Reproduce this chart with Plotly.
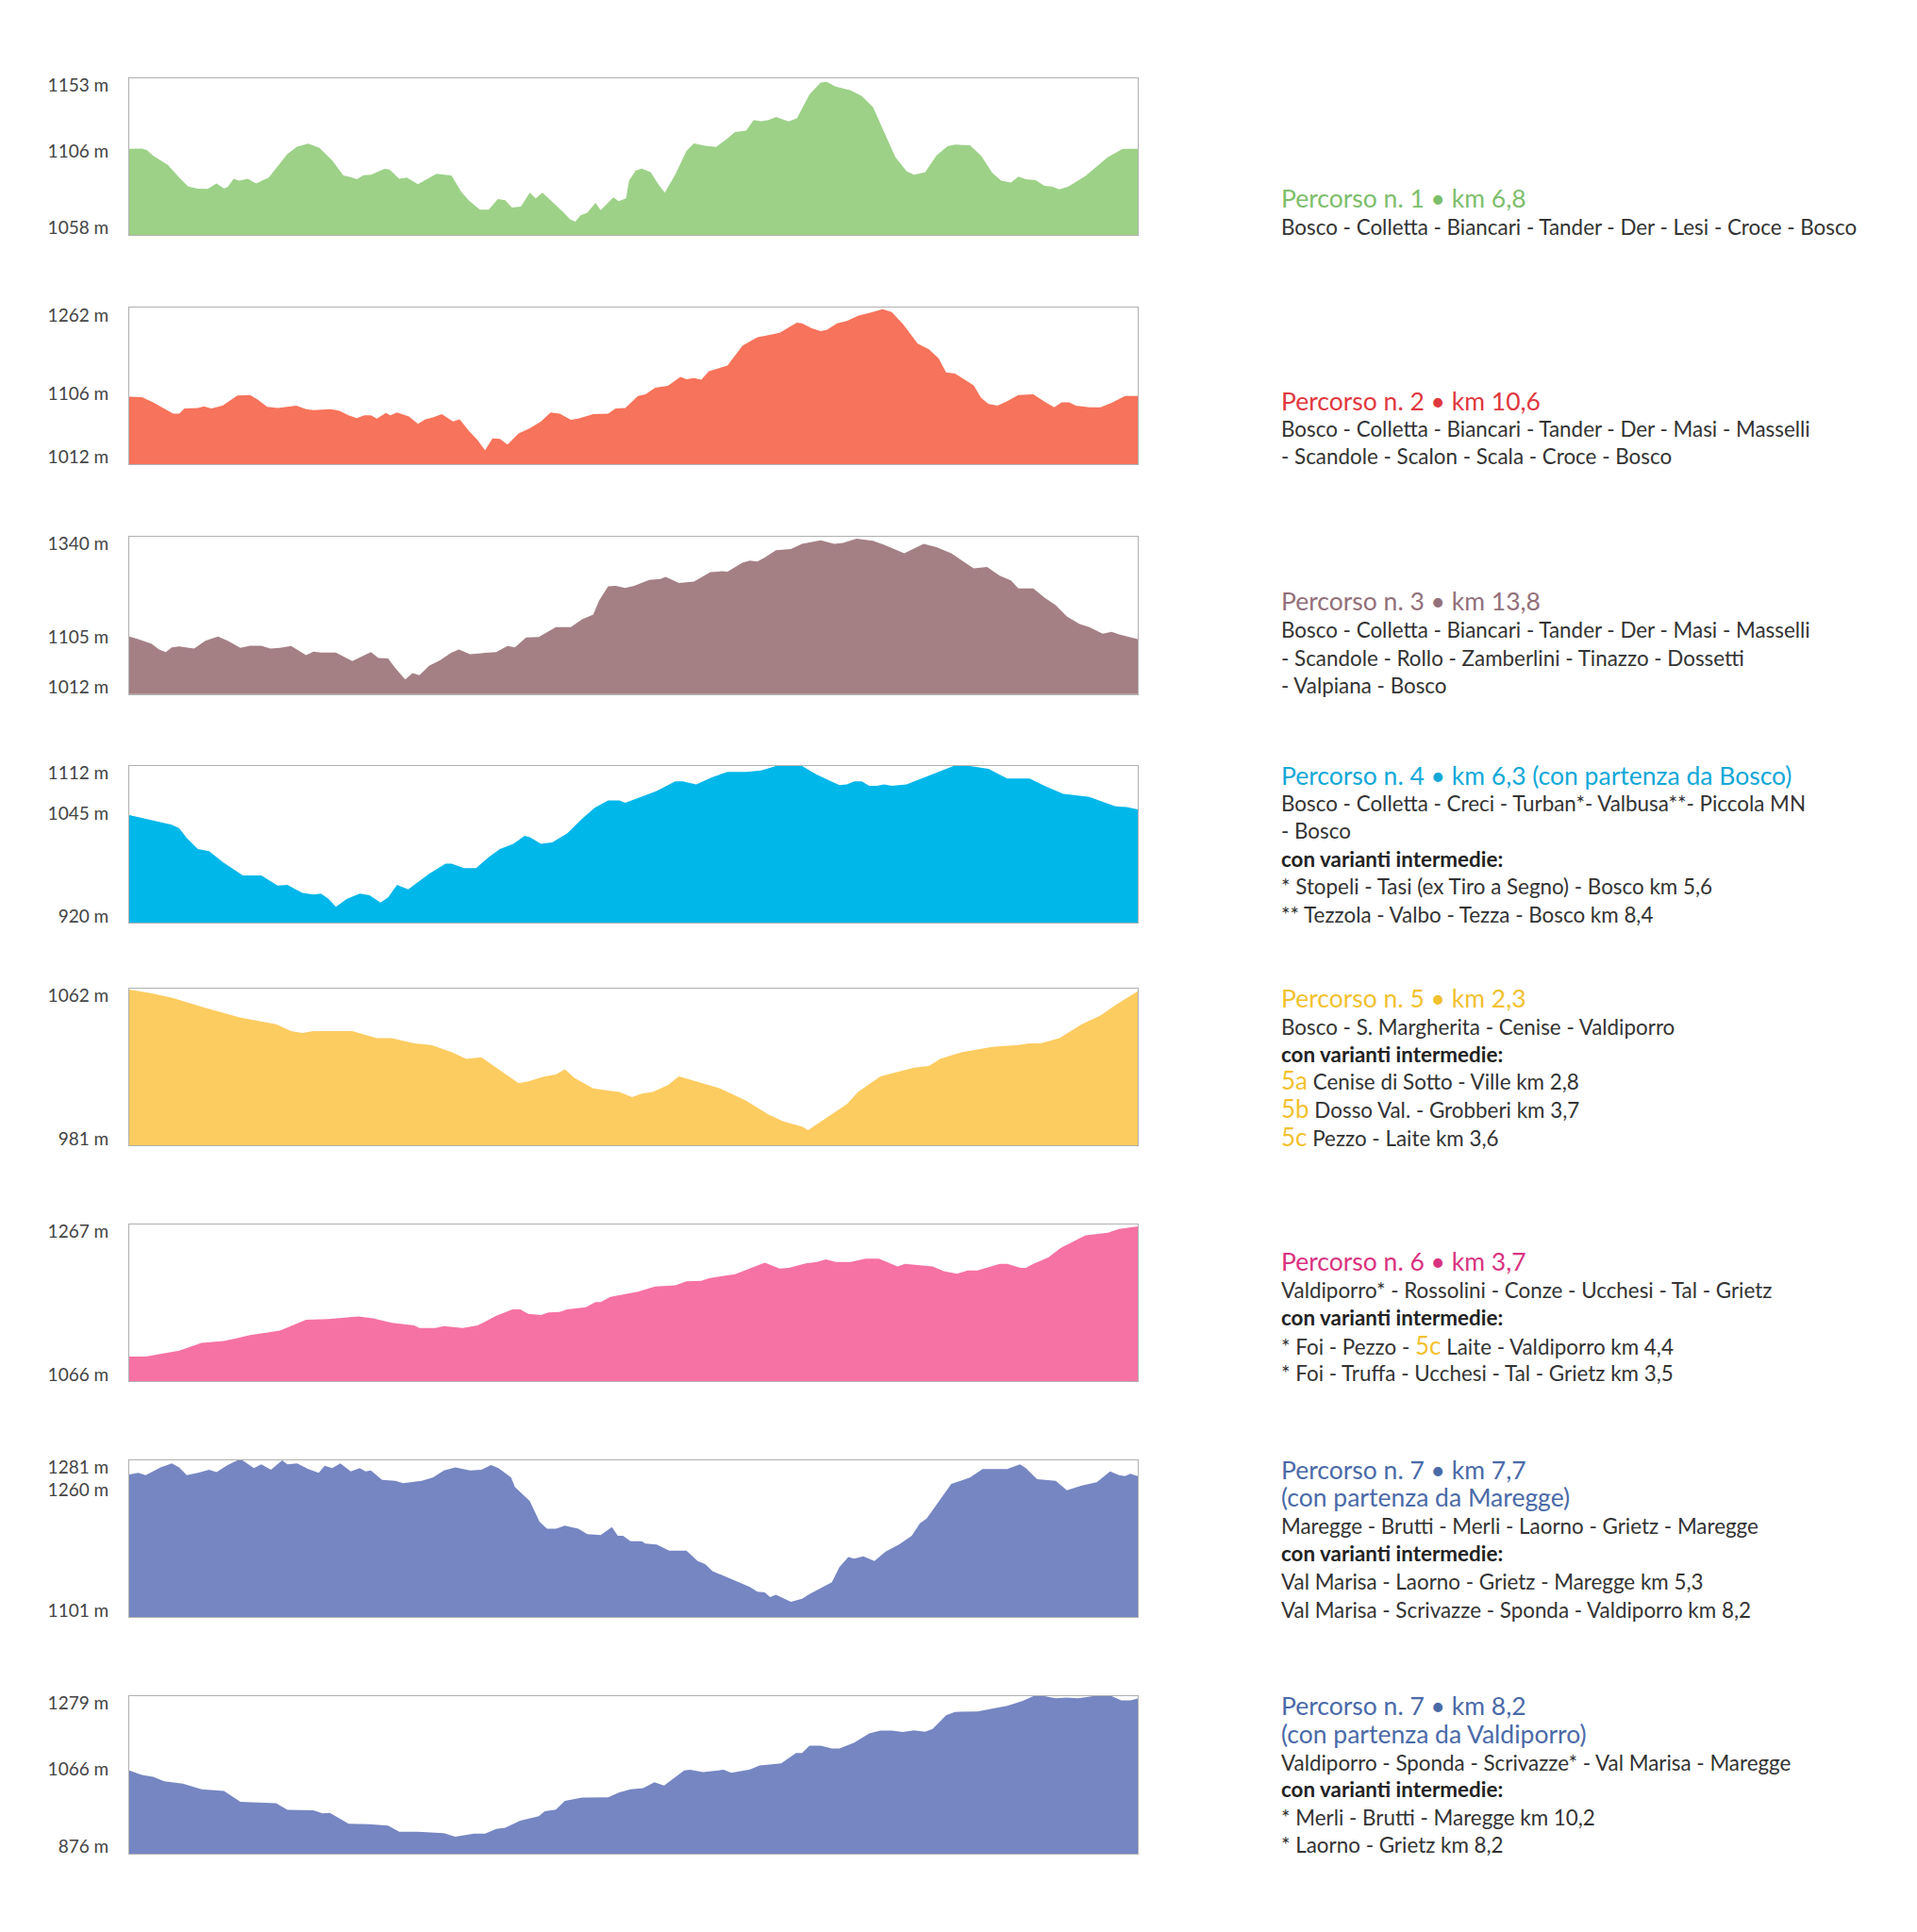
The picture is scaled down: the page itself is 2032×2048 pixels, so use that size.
import plotly.graph_objects as go

WIDTH = 2032
HEIGHT = 2048
PAGE_MARGIN = 8  # the browser's body margin pushes the figure in by this much

# position along each route (arbitrary units, no scale printed) and elevation in metres
DIST_1 = [173,190,197,205,225,240,252,265,278,290,300,305,313,320,332,343,360,385,398,413,428,445,460,470,478,487,497,515,522,535,545,560,585,605,618,628,643,655,667,677,686,698,710,718,727,740,755,764,771,778,787,798,805,822,829,839,843,852,860,872,882,891,905,920,930,945,960,975,985,1000,1010,1020,1030,1040,1057,1068,1085,1100,1108,1120,1140,1155,1170,1185,1200,1215,1225,1240,1255,1270,1280,1300,1315,1330,1342,1355,1365,1375,1388,1400,1410,1420,1432,1455,1485,1505,1525]
ELEV_1 = [1107.5,1107.7,1106.5,1102.8,1096.4,1087.9,1081.9,1080.4,1080.2,1084,1080.6,1081.5,1087.2,1085.8,1087.2,1084,1087.9,1103.9,1109,1111,1108.2,1099.6,1089.4,1088.3,1086.8,1089.6,1089.8,1093.9,1093.4,1087.2,1087.9,1083.4,1090.5,1089.4,1078.3,1072.5,1066.1,1066.1,1073.4,1072.5,1067.6,1068.2,1077.6,1073.8,1077.6,1071.5,1064.4,1059.5,1058,1062.3,1064,1070.8,1065.9,1074.4,1071.9,1073.8,1085.8,1092.8,1094.1,1091.7,1083.6,1077.6,1090,1106,1111.2,1109.5,1108.8,1114.6,1118.8,1119.9,1127,1126.3,1127,1129.1,1126.1,1128.2,1144.5,1152.6,1153,1149.8,1147.2,1143.4,1135.9,1118.8,1101.8,1092.2,1089.8,1091.7,1102.8,1109.2,1110.3,1109.9,1102.8,1091.1,1085.8,1084.5,1088.5,1086.8,1086.2,1082.3,1081.9,1080,1081.9,1089,1101.8,1107.5,1107.5]

DIST_2 = [173,190,205,220,232,240,247,265,273,283,298,318,335,345,358,372,397,410,420,443,455,467,478,488,497,505,517,523,532,548,560,570,580,592,607,616,628,640,650,660,670,680,695,710,725,738,750,765,775,795,815,825,838,855,865,878,895,912,920,930,940,950,975,995,1015,1030,1045,1068,1075,1088,1100,1108,1122,1135,1150,1165,1183,1195,1210,1230,1245,1258,1268,1280,1305,1315,1325,1337,1350,1365,1385,1400,1413,1423,1433,1442,1460,1475,1490,1508,1525]
ELEV_2 = [1107,1106,1097,1086,1077,1077,1086,1087,1090,1086,1091,1109,1110,1102,1089,1087,1091,1085,1083,1085,1082,1074,1069,1074,1074,1068,1078,1074,1079,1072,1059,1067,1070,1076,1063,1067,1047,1030,1012,1033,1032,1022,1042,1051,1063,1079,1077,1066,1068,1076,1077,1086,1087,1108,1111,1123,1126,1142,1138,1140,1137,1152,1162,1197,1212,1216,1220,1238,1237,1228,1223,1225,1237,1241,1250,1255,1262,1257,1236,1201,1191,1175,1150,1148,1127,1105,1094,1091,1099,1110,1111,1098,1088,1097,1097,1091,1088,1088,1096,1108,1108]

DIST_3 = [173,185,203,213,222,230,240,250,260,275,292,305,322,335,350,362,375,390,410,420,430,450,462,472,497,507,520,530,543,553,562,575,590,605,615,630,650,665,680,690,705,722,745,765,780,795,803,815,825,838,850,870,885,892,910,930,952,968,975,995,1005,1015,1025,1040,1060,1075,1100,1118,1130,1148,1170,1185,1212,1238,1255,1275,1305,1323,1340,1355,1365,1385,1400,1415,1430,1447,1460,1478,1490,1500,1525]
ELEV_3 = [1112,1106,1095,1082,1076,1087,1089,1086,1084,1102,1112,1102,1086,1091,1091,1084,1086,1090,1069,1077,1075,1075,1065,1055,1076,1062,1061,1038,1012,1027,1022,1044,1057,1075,1082,1071,1074,1076,1090,1087,1110,1111,1134,1134,1152,1163,1196,1229,1230,1225,1230,1244,1246,1251,1237,1240,1262,1264,1263,1284,1289,1287,1296,1313,1316,1328,1336,1328,1330,1340,1335,1326,1306,1328,1320,1306,1271,1274,1254,1243,1224,1224,1203,1185,1159,1141,1134,1119,1123,1117,1106]

DIST_4 = [173,190,210,230,240,250,265,280,300,325,350,372,385,405,420,430,440,450,465,482,495,510,520,532,547,575,597,605,622,638,655,670,688,703,710,725,740,760,780,797,815,830,838,860,880,905,915,933,955,975,1000,1020,1040,1075,1095,1125,1135,1145,1155,1165,1175,1185,1195,1215,1240,1260,1278,1300,1325,1350,1380,1400,1425,1460,1495,1510,1525]
ELEV_4 = [1045,1041,1037,1032,1027,1014,999,996,980,963,963,949,950,939,937,938,931,920,931,938,936,926,933,950,944,965,979,979,973,973,988,999,1006,1017,1015,1006,1008,1020,1040,1055,1065,1065,1062,1070,1078,1091,1091,1087,1097,1104,1104,1106,1112,1112,1100,1086,1087,1091,1091,1085,1085,1087,1085,1087,1097,1104,1112,1112,1108,1095,1095,1085,1074,1070,1057,1056,1053]

DIST_5 = [173,200,232,270,320,370,390,405,420,472,505,525,555,578,605,625,645,665,695,707,730,745,757,770,795,812,830,847,860,875,895,910,935,965,1000,1030,1050,1075,1083,1100,1135,1150,1180,1225,1245,1260,1290,1330,1365,1380,1395,1420,1450,1475,1495,1525]
ELEV_5 = [1062,1060,1057,1052,1046,1042,1038,1037,1038,1038,1034,1034,1031,1030,1026,1022,1023,1017,1008,1009,1012,1013,1016,1011,1005,1004,1003,1000,1002,1003,1007,1012,1009,1005,998,990,986,983,981,986,996,1003,1012,1017,1018,1022,1026,1029,1030,1031,1031,1034,1042,1047,1053,1061]

DIST_6 = [173,195,240,270,300,335,375,410,440,465,480,500,525,555,562,583,595,620,640,665,687,697,708,725,735,750,760,785,798,805,818,855,878,905,920,940,950,985,1025,1045,1057,1080,1095,1107,1120,1140,1160,1178,1203,1213,1235,1250,1265,1283,1297,1310,1340,1350,1368,1375,1385,1405,1422,1455,1485,1500,1525]
ELEV_6 = [1066,1066,1075,1087,1090,1099,1106,1123,1124,1126,1128,1125,1118,1114,1110,1110,1113,1110,1114,1129,1139,1139,1132,1130,1134,1135,1139,1142,1150,1150,1158,1166,1174,1176,1182,1183,1187,1193,1211,1202,1203,1210,1212,1216,1212,1212,1217,1217,1205,1209,1207,1205,1198,1194,1199,1199,1209,1209,1203,1203,1209,1219,1234,1253,1257,1263,1267]

DIST_7 = [173,185,195,205,215,230,240,250,265,280,290,305,318,325,340,350,363,378,385,398,413,427,435,445,456,470,482,490,497,512,530,540,565,580,595,610,630,645,658,668,685,690,710,717,723,733,745,757,775,787,805,820,828,835,845,860,865,880,897,920,935,945,955,985,1005,1015,1025,1032,1040,1060,1075,1085,1100,1115,1125,1137,1145,1157,1172,1187,1205,1222,1233,1242,1275,1282,1300,1317,1350,1367,1375,1390,1415,1430,1450,1470,1488,1500,1508,1515,1525]
ELEV_7 = [1263,1265,1262,1267,1272,1277,1272,1262,1265,1269,1266,1275,1281,1281,1271,1276,1269,1281,1276,1277,1270,1265,1274,1271,1277,1267,1271,1267,1268,1256,1255,1252,1255,1259,1268,1272,1268,1269,1275,1271,1259,1247,1229,1215,1203,1194,1194,1198,1194,1187,1186,1196,1185,1185,1178,1178,1175,1174,1166,1166,1153,1149,1140,1128,1120,1114,1113,1107,1110,1101,1105,1111,1119,1126,1145,1158,1156,1159,1153,1165,1174,1185,1201,1207,1251,1253,1259,1270,1270,1276,1271,1257,1255,1243,1249,1253,1267,1262,1261,1264,1261]

DIST_8 = [173,190,205,220,245,270,300,322,370,385,420,432,442,467,495,520,535,560,595,610,635,650,665,677,697,722,730,745,757,780,815,830,845,862,877,890,917,925,942,960,970,980,1005,1018,1047,1067,1075,1085,1100,1115,1125,1145,1165,1180,1195,1210,1225,1240,1250,1268,1280,1310,1350,1370,1385,1400,1415,1430,1445,1465,1490,1503,1515,1525]
ELEV_8 = [1066,1053,1048,1035,1028,1012,1007,976,972,953,952,943,944,913,912,908,890,890,886,876,885,885,898,902,922,935,949,954,979,988,989,1003,1012,1015,1032,1023,1066,1068,1061,1066,1068,1059,1069,1080,1086,1116,1116,1137,1137,1129,1129,1146,1172,1180,1180,1176,1181,1177,1185,1224,1234,1235,1251,1265,1279,1279,1273,1275,1273,1279,1279,1267,1267,1272]

DISTS = [DIST_1, DIST_2, DIST_3, DIST_4, DIST_5, DIST_6, DIST_7, DIST_8]
ELEVS = [ELEV_1, ELEV_2, ELEV_3, ELEV_4, ELEV_5, ELEV_6, ELEV_7, ELEV_8]

TICK_TEXT = [
    ["1153 m", "1106 m", "1058 m"],
    ["1262 m", "1106 m", "1012 m"],
    ["1340 m", "1105 m", "1012 m"],
    ["1112 m", "1045 m", "920 m"],
    ["1062 m", "981 m"],
    ["1267 m", "1066 m"],
    ["1281 m", "1260 m", "1101 m"],
    ["1279 m", "1066 m", "876 m"],
]
# the printed labels sit a little off their true height, so they get their own positions
TICK_POS = [
    [1150.4, 1106, 1053.7],
    [1251.5, 1112.3, 999.7],
    [1328.2, 1110.2, 995.2],
    [1102.1, 1047.2, 907.5],
    [1058.3, 976.1],
    [1258.8, 1038.5],
    [1272.6, 1243.9, 1090.2],
    [1258.3, 1068.9, 848],
]
Y_RANGE = [
    [1048.8, 1155.6],
    [987, 1264.8],
    [978.3, 1344.4],
    [898.6, 1112],
    [972.3, 1062.5],
    [1028.2, 1269.9],
    [1081.8, 1281],
    [827.3, 1279],
]
FILL_COLORS = ["#9dd188", "#f7735b", "#a48085", "#00b7ea", "#fdcc60", "#f672a4", "#7686c2", "#7686c2"]

GREEN = "#7dbe6b"
RED = "#e0383e"
MAUVE = "#93707a"
CYAN = "#12a8d8"
YELLOW = "#f2c12e"
PINK = "#d9337f"
BLUE = "#4a6aa8"
DARK = "#333333"


def five(tag):
    return f'<span style="color:{YELLOW};font-size:26px">{tag}</span>'


BOLD = "<b>con varianti intermedie:</b>"

# (text, colour) for every line of the notes column
NOTES = [
    [("Percorso n. 1 • km 6,8", GREEN), ("Bosco - Colletta - Biancari - Tander - Der - Lesi - Croce - Bosco", DARK)],
    [("Percorso n. 2 • km 10,6", RED), ("Bosco - Colletta - Biancari - Tander - Der - Masi - Masselli", DARK),
     ("- Scandole - Scalon - Scala - Croce - Bosco", DARK)],
    [("Percorso n. 3 • km 13,8", MAUVE), ("Bosco - Colletta - Biancari - Tander - Der - Masi - Masselli", DARK),
     ("- Scandole - Rollo - Zamberlini - Tinazzo - Dossetti", DARK), ("- Valpiana - Bosco", DARK)],
    [("Percorso n. 4 • km 6,3 (con partenza da Bosco)", CYAN), ("Bosco - Colletta - Creci - Turban*- Valbusa**- Piccola MN", DARK),
     ("- Bosco", DARK), (BOLD, "#222222"), ("* Stopeli - Tasi (ex Tiro a Segno) - Bosco km 5,6", DARK),
     ("** Tezzola - Valbo - Tezza - Bosco km 8,4", DARK)],
    [("Percorso n. 5 • km 2,3", YELLOW), ("Bosco - S. Margherita - Cenise - Valdiporro", DARK), (BOLD, "#222222"),
     (five("5a") + " Cenise di Sotto - Ville km 2,8", DARK), (five("5b") + " Dosso Val. - Grobberi km 3,7", DARK),
     (five("5c") + " Pezzo - Laite km 3,6", DARK)],
    [("Percorso n. 6 • km 3,7", PINK), ("Valdiporro* - Rossolini - Conze - Ucchesi - Tal - Grietz", DARK), (BOLD, "#222222"),
     ("* Foi - Pezzo - " + five("5c") + " Laite - Valdiporro km 4,4", DARK), ("* Foi - Truffa - Ucchesi - Tal - Grietz km 3,5", DARK)],
    [("Percorso n. 7 • km 7,7", BLUE), ("(con partenza da Maregge)", BLUE), ("Maregge - Brutti - Merli - Laorno - Grietz - Maregge", DARK),
     (BOLD, "#222222"), ("Val Marisa - Laorno - Grietz - Maregge km 5,3", DARK), ("Val Marisa - Scrivazze - Sponda - Valdiporro km 8,2", DARK)],
    [("Percorso n. 7 • km 8,2", BLUE), ("(con partenza da Valdiporro)", BLUE), ("Valdiporro - Sponda - Scrivazze* - Val Marisa - Maregge", DARK),
     (BOLD, "#222222"), ("* Merli - Brutti - Maregge km 10,2", DARK), ("* Laorno - Grietz km 8,2", DARK)],
]
NOTE_Y = [
    [210, 240],
    [424.5, 454.5, 483],
    [637, 667, 697, 726],
    [821.5, 851.5, 880, 910, 939, 969],
    [1058, 1088, 1117, 1145, 1175, 1205],
    [1337, 1367, 1396, 1426, 1455],
    [1558, 1587, 1617, 1646, 1676, 1706],
    [1807.5, 1837.5, 1868, 1896, 1926, 1955],
]
TITLE_LINES = [1, 1, 1, 1, 1, 1, 2, 2]

PANEL_LEFT = 137
PANEL_RIGHT = 1206
PANEL_TOP = [82.7, 326, 569, 812, 1048, 1298, 1548, 1798]
PANEL_BOTTOM = [249.3, 492.3, 735.7, 978, 1214, 1464, 1714, 1965]
NOTE_LEFT = 1355.5
FONT = "Lato"
BORDER = "#b0b0b0"


def px_x(value):
    return (value - PAGE_MARGIN) / WIDTH


def px_y(value):
    return 1 - (value - PAGE_MARGIN) / HEIGHT


fig = go.Figure()
layout = dict(
    width=WIDTH,
    height=HEIGHT,
    margin=dict(l=0, r=0, t=0, b=0),
    paper_bgcolor="white",
    plot_bgcolor="white",
    showlegend=False,
    font=dict(family=FONT, color=DARK),
)

annotations = []
for i in range(8):
    n = str(i + 1) if i else ""
    fig.add_trace(go.Scatter(x=DISTS[i], y=ELEVS[i],
                             xaxis="x" + n, yaxis="y" + n,
                             mode="lines",
                             line=dict(width=0, color=FILL_COLORS[i]),
                             fill="tozeroy",
                             fillcolor=FILL_COLORS[i],
                             hoverinfo="skip"))
    layout["xaxis" + n] = dict(domain=[px_x(PANEL_LEFT), px_x(PANEL_RIGHT)],
                               range=[DISTS[i][0], DISTS[i][-1]],
                               anchor="y" + n,
                               automargin=False,
                               showgrid=False, zeroline=False, showticklabels=False,
                               ticks="", showline=True, mirror=True,
                               linecolor=BORDER, linewidth=1)
    layout["yaxis" + n] = dict(domain=[px_y(PANEL_BOTTOM[i]), px_y(PANEL_TOP[i])],
                               range=Y_RANGE[i],
                               anchor="x" + n,
                               automargin=False,
                               tickmode="array",
                               tickvals=TICK_POS[i],
                               ticktext=TICK_TEXT[i],
                               tickfont=dict(family=FONT, size=19, color="#444444"),
                               ticks="", ticklabelstandoff=17,
                               showgrid=False, zeroline=False, showline=True, mirror=True,
                               linecolor=BORDER, linewidth=1)

    for j, (line, color) in enumerate(NOTES[i]):
        title = j < TITLE_LINES[i]
        annotations.append(dict(x=px_x(NOTE_LEFT), y=px_y(NOTE_Y[i][j]),
                                xref="paper", yref="paper",
                                xanchor="left", yanchor="middle",
                                showarrow=False, align="left",
                                text=line,
                                font=dict(family=FONT, size=26.5 if title else 22.4, color=color)))

fig.update_layout(annotations=annotations, **layout)
fig.write_html("out.html")
